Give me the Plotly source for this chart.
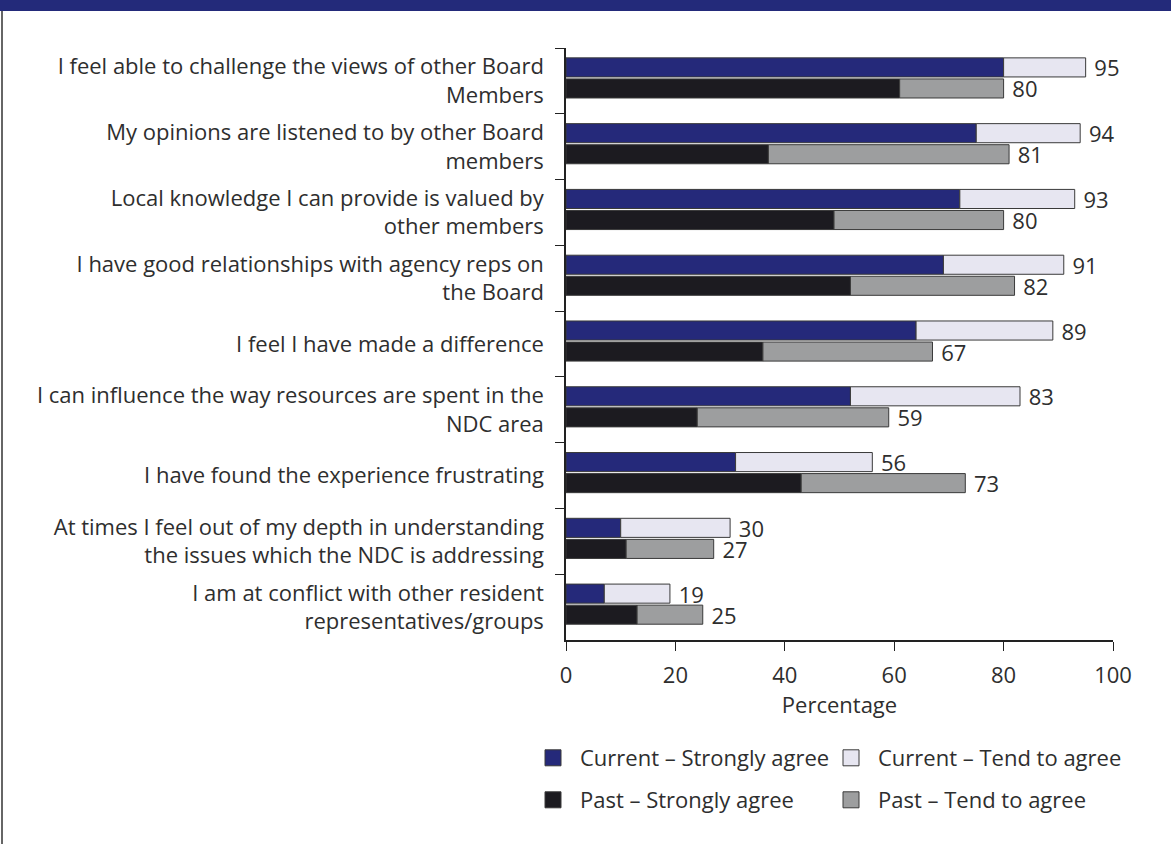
import plotly.graph_objects as go

# statements, top to bottom as in the report
STATEMENTS = [
    'I feel able to challenge the views of other Board<br>Members',
    'My opinions are listened to by other Board<br>members',
    'Local knowledge I can provide is valued by<br>other members',
    'I have good relationships with agency reps on<br>the Board',
    'I feel I have made a difference',
    'I can influence the way resources are spent in the<br>NDC area',
    'I have found the experience frustrating',
    'At times I feel out of my depth in understanding<br>the issues which the NDC is addressing',
    'I am at conflict with other resident<br>representatives/groups',
]

CUR_STRONG = [80, 75, 72, 69, 64, 52, 31, 10, 7]
CUR_TOTAL = [95, 94, 93, 91, 89, 83, 56, 30, 19]
PAST_STRONG = [61, 37, 49, 52, 36, 24, 43, 11, 13]
PAST_TOTAL = [80, 81, 80, 82, 67, 59, 73, 27, 25]

X_TICKS = [0, 20, 40, 60, 80, 100]

NAVY = '#25297a'
LAVENDER = '#e7e6f1'
BLACK = '#1c1b20'
GREY = '#9d9e9f'
EDGE = '#3a3a3a'
TEXT = '#2e2e2e'
FONT = 'Open Sans, Noto Sans, sans-serif'
FS = 22

W, H = 1171, 844
L, R, T, B = 566, 58, 48, 204
PW, PH = W - L - R, H - T - B

cur_tend = [t - s for t, s in zip(CUR_TOTAL, CUR_STRONG)]
past_tend = [t - s for t, s in zip(PAST_TOTAL, PAST_STRONG)]

fig = go.Figure()

# (name, values, base, colour, bar offset, labels, legend)
series = [
    ('Current – Strongly agree', CUR_STRONG, None, NAVY, -0.35, None, 'legend'),
    ('Current – Tend to agree', cur_tend, CUR_STRONG, LAVENDER, -0.35, CUR_TOTAL, 'legend'),
    ('Past – Strongly agree', PAST_STRONG, None, BLACK, -0.03, None, 'legend2'),
    ('Past – Tend to agree', past_tend, PAST_STRONG, GREY, -0.03, PAST_TOTAL, 'legend2'),
]

for name, vals, base, colour, off, labels, _ in series:
    fig.add_trace(go.Bar(
        y=STATEMENTS, x=vals, base=base, orientation='h',
        width=0.29, offset=off, name=name, showlegend=False,
        marker=dict(color=colour, line=dict(color=EDGE, width=1)),
        text=['\u00a0' + str(v) for v in labels] if labels else None,
        textposition='outside' if labels else 'none',
        textfont=dict(family=FONT, size=22, color=TEXT),
        constraintext='none', cliponaxis=False,
    ))

# legend-only markers so the swatches come out bigger than bar swatches
for name, _, _, colour, _, _, leg in series:
    fig.add_trace(go.Scatter(
        x=[None], y=[None], mode='markers', name=name, legend=leg,
        marker=dict(symbol='square', size=20, color=colour,
                    line=dict(color=EDGE, width=1)),
    ))

# dark header band + left frame line
fig.add_shape(type='rect', xref='paper', yref='paper',
              x0=-L / PW, x1=1 + R / PW, y0=1 + (T - 11) / PH, y1=1 + T / PH,
              fillcolor='#232a7a', line_width=0, layer='above')
fig.add_shape(type='line', xref='paper', yref='paper',
              x0=-(L - 2) / PW, x1=-(L - 2) / PW, y0=-B / PH, y1=1 + (T - 11) / PH,
              line=dict(color='#333333', width=1.5))

fig.update_xaxes(range=[0, 100], tickvals=X_TICKS, showgrid=False, zeroline=False,
                 showline=True, linecolor='#222222', linewidth=1.5,
                 ticks='outside', ticklen=9, tickcolor='#222222', tickwidth=1.2,
                 ticklabelstandoff=6,
                 tickfont=dict(family=FONT, size=FS, color=TEXT),
                 title=dict(text='Percentage', font=dict(family=FONT, size=FS, color=TEXT),
                            standoff=5))
fig.update_yaxes(autorange='reversed', showgrid=False, zeroline=False,
                 showline=True, linecolor='#222222', linewidth=1.5,
                 ticks='outside', ticklen=9, tickcolor='#222222', tickwidth=1.2,
                 tickson='boundaries', ticklabelstandoff=16,
                 tickfont=dict(family=FONT, size=FS, color=TEXT))

legend_style = dict(orientation='h', traceorder='normal', xanchor='left',
                    yanchor='top', itemwidth=44, entrywidth=239,
                    font=dict(family=FONT, size=FS, color=TEXT))

fig.update_layout(
    width=W, height=H,
    margin=dict(l=L, r=R, t=T, b=B),
    barmode='overlay',
    paper_bgcolor='white', plot_bgcolor='white',
    font=dict(family=FONT, size=FS, color=TEXT),
    legend=dict(x=(526 - L) / PW, y=(H - B - 737) / PH, **legend_style),
    legend2=dict(x=(526 - L) / PW, y=(H - B - 779) / PH, **legend_style),
)

fig.write_html('out.html', config={'displayModeBar': False},
               post_script="document.body.style.margin='0';")
